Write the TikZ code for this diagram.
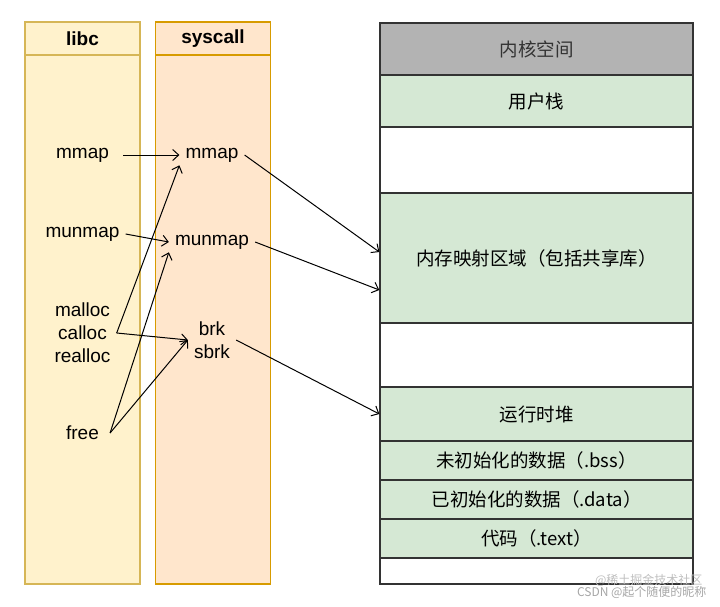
\documentclass[tikz,border=0pt]{standalone}
\usepackage{fontspec}
\setmainfont{Liberation Sans}
\newfontfamily\cjk{Noto Sans CJK SC}
\usepackage{color}
\usetikzlibrary{arrows.meta}
\definecolor{libcfill}{HTML}{FFF2CC}
\definecolor{libcline}{HTML}{D6B656}
\definecolor{sysfill}{HTML}{FFE6CC}
\definecolor{sysline}{HTML}{D79B00}
\definecolor{segfill}{HTML}{D5E8D4}
\definecolor{kernfill}{HTML}{B3B3B3}
\definecolor{segline}{HTML}{333333}

\begin{document}
\begin{tikzpicture}
  [x=1pt,y=-1pt,font=\fontsize{19}{23}\selectfont]
      \tikzstyle{col_style} = [draw, line width=1.3pt, minimum width=115pt, inner sep=0pt]
      \tikzstyle{head_style} = [col_style, minimum height=33pt, font=\bfseries\fontsize{19}{23}\selectfont]
      \tikzstyle{seg_style} = [draw=segline, line width=1.3pt, minimum width=313pt, inner sep=0pt, font=\cjk\fontsize{18.5}{22}\selectfont]
      \tikzstyle{call_style} = [align=center, inner xsep=6pt, inner ysep=3pt]
      \tikzstyle{edge_style} = [draw=black, line width=1pt, -{Straight Barb[length=6pt,width=11pt]}]
  \useasboundingbox (0,0) rectangle (720,606);
  % the two columns
  \node[col_style, fill=libcfill, draw=libcline, minimum height=529pt] (libcbody) at (82.5,319.5) {};
  \node[head_style, fill=libcfill, draw=libcline] (libc) at (82.5,38.5) {libc};
  \node[col_style, fill=sysfill, draw=sysline, minimum height=529pt] (sysbody) at (213,319.5) {};
  \node[head_style, fill=sysfill, draw=sysline] (sys) at (213,38.5) {syscall};
  % process memory layout
  \node[seg_style, fill=kernfill, minimum height=52pt, text=segline] (kern) at (536.5,49) {内核空间};
  \node[seg_style, fill=segfill, minimum height=52pt] (stack) at (536.5,101) {用户栈};
  \node[seg_style, fill=white, minimum height=66pt] (gap1) at (536.5,160) {};
  \node[seg_style, fill=segfill, minimum height=130pt] (mmaprow) at (536.5,258) {内存映射区域（包括共享库）};
  \node[seg_style, fill=white, minimum height=64pt] (gap2) at (536.5,355) {};
  \node[seg_style, fill=segfill, minimum height=54pt] (heap) at (536.5,414) {运行时堆};
  \node[seg_style, fill=segfill, minimum height=39pt] (bss) at (536.5,460.5) {未初始化的数据（.bss）};
  \node[seg_style, fill=segfill, minimum height=39pt] (data) at (536.5,499.5) {已初始化的数据（.data）};
  \node[seg_style, fill=segfill, minimum height=39pt] (text) at (536.5,538.5) {代码（.text）};
  \node[seg_style, fill=white, minimum height=26pt] (gap3) at (536.5,571) {};
  % calls
  \node[call_style] (lmmap) at (82.5,155) {mmap};
  \node[call_style] (lmunmap) at (82.5,234) {munmap};
  \node[call_style] (malloc) at (82.5,333) {malloc\\calloc\\realloc};
  \node[call_style] (free) at (82.5,433) {free};
  \node[call_style] (smmap) at (212,155) {mmap};
  \node[call_style] (smunmap) at (212,242) {munmap};
  \node[call_style] (brk) at (212,340) {brk\\sbrk};
  \draw[edge_style] ([xshift=8pt]lmmap.east) -- (smmap.west);
  \draw[edge_style] (lmunmap.east) -- (smunmap.west);
  \draw[edge_style] (malloc.east) -- (smmap.south west);
  \draw[edge_style] (malloc.east) -- (brk.west);
  \draw[edge_style] ([xshift=5pt]free.east) -- (smunmap.south west);
  \draw[edge_style] ([xshift=5pt]free.east) -- (brk.west);
  \draw[edge_style] (smmap.east) -- ([yshift=6pt]mmaprow.west);
  \draw[edge_style] (smunmap.east) -- ([yshift=-32pt]mmaprow.west);
  \draw[edge_style] (brk.east) -- (heap.west);
  % watermark
  \node[text=black!25, font=\cjk\fontsize{12}{14}\selectfont, anchor=east] (wm1) at (706,580) {@稀土掘金技术社区};
  \node[text=black!35, font=\cjk\fontsize{12}{14}\selectfont, anchor=east] (wm2) at (710,592) {CSDN @起个随便的昵称};
\end{tikzpicture}
\end{document}
